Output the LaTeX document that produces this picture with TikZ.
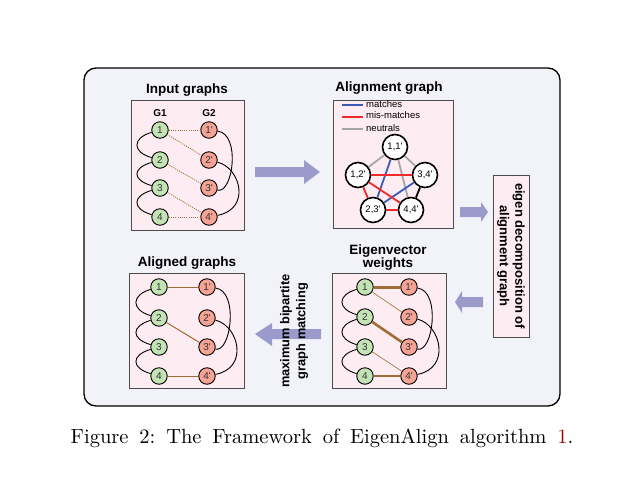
\documentclass[tikz,border=0pt]{standalone}
\usepackage{fontspec}
\newfontfamily\arial{Liberation Sans}
\definecolor{outerfill}{HTML}{F2F2F9}
\definecolor{panelpink}{HTML}{FDECF1}
\definecolor{gfill}{HTML}{C4E3B5}
\definecolor{rfill}{HTML}{F5A394}
\definecolor{brownc}{HTML}{9E6E36}
\definecolor{arrowc}{HTML}{9B9BCB}
\definecolor{lblue}{HTML}{3C5BB8}
\definecolor{lred}{HTML}{EE2A2A}
\definecolor{lgray}{HTML}{A6A6A6}
\definecolor{refred}{HTML}{A00000}
\newcommand\bip[7]{%
  \node[gn] (#1a1) at (#2,#4) {1};
  \node[gn] (#1a2) at (#2,#5) {2};
  \node[gn] (#1a3) at (#2,#6) {3};
  \node[gn] (#1a4) at (#2,#7) {4};
  \node[rn] (#1b1) at (#3,#4) {1'};
  \node[rn] (#1b2) at (#3,#5) {2'};
  \node[rn] (#1b3) at (#3,#6) {3'};
  \node[rn] (#1b4) at (#3,#7) {4'};
  \draw[link] (#1a1) .. controls +(-28,8) and +(-28,-8) .. (#1a2);
  \draw[link] (#1a2) .. controls +(-28,8) and +(-28,-8) .. (#1a3);
  \draw[link] (#1a3) .. controls +(-28,8) and +(-28,-8) .. (#1a4);
  \draw[link] (#1b1) .. controls +(32,4) and +(24,6) .. (#1b3);
  \draw[link] (#1b2) .. controls +(32,8) and +(42,-8) .. (#1b4);
}
\begin{document}
\begin{tikzpicture}[x=1pt,y=-1pt,
  panel/.style={draw=black!70, line width=0.8pt, fill=panelpink},
  ttl/.style={font=\arial\bfseries\fontsize{13.5}{14}\selectfont, align=center},
  side/.style={font=\arial\bfseries\fontsize{13}{15.5}\selectfont, align=center},
  gn/.style={circle, draw=black, line width=0.9pt, fill=gfill, minimum size=16.5pt, inner sep=0pt, font=\arial\fontsize{10}{10}\selectfont, text=black!80},
  rn/.style={gn, fill=rfill},
  an/.style={circle, draw=black, line width=1.6pt, fill=white, minimum size=25pt, inner sep=0pt, font=\arial\fontsize{9.5}{10}\selectfont},
  link/.style={draw=black, line width=0.9pt},
  dots/.style={draw=brownc, line width=0.9pt, dash pattern=on 1pt off 1.2pt},
  bl/.style={draw=brownc},
  ae/.style={line width=1.8pt},
  legtxt/.style={font=\arial\fontsize{9.5}{10}\selectfont, anchor=west, inner sep=0pt},
  blockarrow/.style={fill=arrowc, draw=none}
]
\path[use as bounding box] (0,0) rectangle (619,483);
\draw[fill=outerfill, line width=1.3pt, rounded corners=12pt] (84,68) rectangle (560,406);

% panels
\draw[panel] (131,100) rectangle (244,230);
\draw[panel] (333,100) rectangle (453,228);
\draw[panel] (129,273) rectangle (244,388);
\draw[panel] (332,273) rectangle (446,388);
\draw[panel] (493,175) rectangle (529,337);

% titles
\node[ttl] (t1) at (187,90) {Input graphs};
\node[ttl] (t2) at (389,88) {Alignment graph};
\node[ttl] (t3) at (187,263) {Aligned graphs};
\node[ttl] (t4a) at (388,251) {Eigenvector};
\node[ttl] (t4b) at (388,264) {weights};

% input graphs
\node[font=\arial\bfseries\fontsize{10}{10}\selectfont] (g1) at (160,113) {G1};
\node[font=\arial\bfseries\fontsize{10}{10}\selectfont] (g2) at (209,113) {G2};
\bip{i}{160}{209}{130}{160}{188}{217}
\draw[dots] (ia1) -- (ib1);
\draw[dots] (ia1) -- (ib2);
\draw[dots] (ia2) -- (ib3);
\draw[dots] (ia3) -- (ib4);
\draw[dots] (ia4) -- (ib4);

% aligned graphs
\bip{g}{159}{207}{287}{318}{347}{376}
\draw[bl, line width=1pt] (ga1) -- (gb1);
\draw[bl, line width=1pt] (ga2) -- (gb3);
\draw[bl, line width=1pt] (ga4) -- (gb4);

% eigenvector weights
\bip{e}{365}{409}{287}{317}{347}{376}
\draw[bl, line width=3pt] (ea1) -- (eb1);
\draw[bl, line width=0.6pt] (ea1) -- (eb2);
\draw[bl, line width=2.6pt] (ea2) -- (eb3);
\draw[bl, line width=0.6pt] (ea3) -- (eb4);
\draw[bl, line width=1.8pt] (ea4) -- (eb4);

% alignment graph legend
\coordinate (lb1) at (342,105); \coordinate (lb2) at (363,105);
\coordinate (lr1) at (342,117); \coordinate (lr2) at (363,117);
\coordinate (lg1) at (342,129); \coordinate (lg2) at (363,129);
\draw[lblue, line width=1.3pt] (lb1) -- (lb2);
\draw[lred, line width=1.3pt] (lr1) -- (lr2);
\draw[lgray, line width=1.3pt] (lg1) -- (lg2);
\node[legtxt] (m1) at (366,104) {matches};
\node[legtxt] (m2) at (366,115) {mis-matches};
\node[legtxt] (m3) at (366,128) {neutrals};

% alignment graph
\node[an] (n11) at (395,147) {1,1'};
\node[an] (n12) at (358,175) {1,2'};
\node[an] (n34) at (425,175) {3,4'};
\node[an] (n23) at (373,210) {2,3'};
\node[an] (n44) at (411,210) {4,4'};
\begin{scope}[ae]
\draw[lgray] (n11) -- (n12);
\draw[lgray] (n11) -- (n34);
\draw[lgray] (n11) -- (n44);
\draw[lblue] (n11) -- (n23);
\draw[lblue] (n34) -- (n23);
\draw[lred] (n12) -- (n34);
\draw[lred] (n12) -- (n23);
\draw[lred] (n12) -- (n44);
\draw[lred] (n23) -- (n44);
\draw[black] (n34) -- (n44);
\end{scope}

% arrows
\fill[blockarrow] (255,167) -- (304,167) -- (304,160) -- (320,172) -- (304,184) -- (304,177) -- (255,177) -- cycle;
\fill[blockarrow] (460,207) -- (481,207) -- (481,202) -- (488,212) -- (481,222) -- (481,217) -- (460,217) -- cycle;
\fill[blockarrow] (483,297) -- (462,297) -- (462,291) -- (455,302) -- (462,313) -- (462,307) -- (483,307) -- cycle;
\fill[blockarrow] (321,329) -- (272,329) -- (272,323) -- (255,334) -- (272,346) -- (272,339) -- (321,339) -- cycle;

% side texts
\node[side, rotate=-90] (ed) at (511,256) {eigen decomposition of\\alignment graph};
\node[side, rotate=90, font=\arial\bfseries\fontsize{12.8}{16}\selectfont] (mb) at (294,331) {maximum bipartite\\graph matching};

% caption
\node[anchor=base, inner sep=0pt] (cap) at (322,443) {\scalebox{2.05}{\fontsize{10}{12}\selectfont\spaceskip=5.3pt\xspaceskip=5.3pt Figure 2: The Framework of EigenAlign algorithm \textcolor{refred}{1}.}};
\end{tikzpicture}
\end{document}
